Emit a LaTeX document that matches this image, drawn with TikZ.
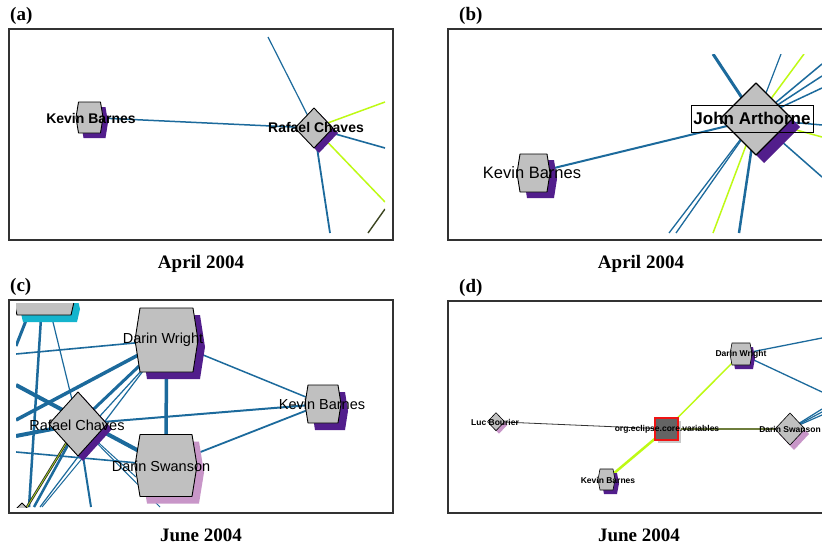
\documentclass[tikz,border=0pt]{standalone}
\usepackage{fontspec}
\setmainfont{Liberation Serif}
\setsansfont{Liberation Sans}
\definecolor{eblue}{RGB}{28,106,156}
\definecolor{elime}{RGB}{190,250,20}
\definecolor{eolive}{RGB}{110,125,60}
\definecolor{nodegray}{RGB}{192,192,192}
\definecolor{shpurple}{RGB}{82,30,140}
\definecolor{shmauve}{RGB}{200,150,200}
\definecolor{shteal}{RGB}{20,180,205}
\definecolor{shgray}{RGB}{200,200,200}
\definecolor{sqfill}{RGB}{100,100,100}
\definecolor{sqred}{RGB}{240,20,20}
\definecolor{framegray}{RGB}{50,50,50}
\newcommand\HexShape[5]{\path[shift={(#1)},#5] (-#2+#4,-#3) -- (#2-#4,-#3) -- (#2,0) -- (#2-#4,#3) -- (-#2+#4,#3) -- (-#2,0) -- cycle;}
\newcommand\DiaShape[4]{\path[shift={(#1)},#4] (0,-#3) -- (#2,0) -- (0,#3) -- (-#2,0) -- cycle;}
\begin{document}
\begin{tikzpicture}[x=1pt,y=-1pt,
  frame/.style={draw=framegray,line width=1.1pt},
  ed/.style={draw=eblue,line width=#1},
  ed/.default=1.3pt,
  lime/.style={draw=elime,line width=#1},
  lime/.default=1.5pt,
  nshape/.style={fill=nodegray,draw=black,line width=0.9pt,line join=round},
  plabel/.style={font=\bfseries\fontsize{19}{22}\selectfont,anchor=base west,inner sep=0},
  caption/.style={font=\bfseries\fontsize{19}{22}\selectfont,anchor=base,inner sep=0},
  lblA/.style={font=\sffamily\bfseries\fontsize{14}{16}\selectfont,inner sep=0},
  lblB/.style={font=\sffamily\fontsize{16.5}{19}\selectfont,inner sep=0},
  lblC/.style={font=\sffamily\fontsize{14.5}{17}\selectfont,inner sep=0},
  lblD/.style={font=\sffamily\bfseries\fontsize{8.5}{10}\selectfont,inner sep=0},
]
\useasboundingbox (0,0) rectangle (822,549);
\fill[white] (0,0) rectangle (822,549);

% ---------------- panel (a) ----------------
\coordinate (kbA) at (89.5,117.5);
\coordinate (rcA) at (314,128);
\coordinate (a1) at (268,37);
\coordinate (a2) at (385,102);
\coordinate (a3) at (385,148);
\coordinate (a4) at (385,202);
\coordinate (a5) at (330,233);
\coordinate (a6) at (368,233);
\coordinate (a7) at (385,209);
\begin{scope}
  \clip (16,36) rectangle (385,233);
  \draw[ed=1.5pt] (kbA) -- (rcA);
  \draw[ed=1.2pt] (rcA) -- (a1);
  \draw[lime] (rcA) -- (a2);
  \draw[ed=1.6pt] (rcA) -- (a3);
  \draw[lime] (rcA) -- (a4);
  \draw[ed=1.8pt] (rcA) -- (a5);
  \draw[draw=eolive!55!black,line width=1.4pt] (a6) -- (a7);
  \HexShape{kbA}{13.5}{15.5}{2.5}{fill=shpurple,shift={(5,5)}}
  \HexShape{kbA}{13.5}{15.5}{2.5}{nshape}
  \DiaShape{rcA}{19}{20}{fill=shpurple,shift={(5,5)}}
  \DiaShape{rcA}{19}{20}{nshape}
\end{scope}
\node[lblA] (kbAl) at (91,118) {Kevin Barnes};
\node[lblA] (rcAl) at (316,127) {Rafael Chaves};
\draw[frame] (9,29) rectangle (393,240);
\node[plabel] (la) at (10,20.5) {(a)};
\node[caption] (ca) at (201,268) {April 2004};

% ---------------- panel (b) ----------------
\coordinate (kbB) at (533.5,173);
\coordinate (jaB) at (756,119);
\coordinate (b1) at (713,54);
\coordinate (b2) at (781,54);
\coordinate (b3) at (804,54);
\coordinate (b4) at (822,64);
\coordinate (b5) at (822,76);
\coordinate (b6) at (822,88);
\coordinate (b7) at (822,125);
\coordinate (b8) at (822,137);
\coordinate (b9) at (822,177);
\coordinate (b10) at (669,233);
\coordinate (b11) at (676,233);
\coordinate (b12) at (713,233);
\coordinate (b13) at (739,233);
\begin{scope}
  \clip (455,54) rectangle (822,233);
  \draw[ed=2pt] (kbB) -- (jaB);
  \draw[ed=3pt] (jaB) -- (b1);
  \draw[ed=1.2pt] (jaB) -- (b2);
  \draw[lime] (jaB) -- (b3);
  \draw[ed=1.5pt] (jaB) -- (b4);
  \draw[ed=1.5pt] (jaB) -- (b5);
  \draw[ed=1.5pt] (jaB) -- (b6);
  \draw[ed=1.5pt] (jaB) -- (b7);
  \draw[lime] (jaB) -- (b8);
  \draw[ed=1.5pt] (jaB) -- (b9);
  \draw[ed=1.3pt] (jaB) -- (b10);
  \draw[ed=1.3pt] (jaB) -- (b11);
  \draw[lime] (jaB) -- (b12);
  \draw[ed=2.5pt] (jaB) -- (b13);
  \HexShape{kbB}{16.5}{19}{3}{fill=shpurple,shift={(7,6)}}
  \HexShape{kbB}{16.5}{19}{3}{nshape}
  \DiaShape{jaB}{36}{36}{fill=shpurple,shift={(8,8)}}
  \DiaShape{jaB}{36}{36}{nshape,line width=1.1pt}
\end{scope}
\node[lblB] (kbBl) at (532,173) {Kevin Barnes};
\node[draw=black,line width=0.9pt,minimum width=122pt,minimum height=27pt,inner sep=0,
      font=\sffamily\bfseries\fontsize{17}{20}\selectfont] (jaBl) at (752,118.5) {John Arthorne};
\draw[frame] (822,29) -- (448,29) -- (448,240) -- (822,240);
\node[plabel] (lb) at (459,20.5) {(b)};
\node[caption] (cb) at (641,268) {April 2004};

% ---------------- panel (c) ----------------
\coordinate (tlC) at (44,302);
\coordinate (dwC) at (166.5,340);
\coordinate (dsC) at (166,465.5);
\coordinate (kbC) at (323,404);
\coordinate (rcC) at (78,424);
\coordinate (bcC) at (22,511);
\coordinate (c1s) at (27,318);
\coordinate (c1e) at (16,346);
\coordinate (c2s) at (41,318);
\coordinate (c2e) at (29,507);
\coordinate (c3s) at (52,318);
\coordinate (c4) at (16,354);
\coordinate (c5) at (16,385);
\coordinate (c6) at (16,420);
\coordinate (c8) at (16,436);
\coordinate (c9) at (16,452);
\coordinate (c11) at (40,507);
\coordinate (c16) at (27,507);
\coordinate (c17) at (91,507);
\coordinate (c18s) at (85,455);
\coordinate (c18e) at (42,507);
\coordinate (c19) at (160,507);
\coordinate (c20s) at (100,416);
\coordinate (c20e) at (142,370);
\coordinate (c21) at (136,477);
\coordinate (c22s) at (68,445);
\coordinate (c22e) at (34,507);
\begin{scope}
  \clip (16,303) rectangle (392,507);
  \draw[ed=3pt] (c1s) -- (c1e);
  \draw[ed=2.5pt] (c2s) -- (c2e);
  \draw[ed=1.2pt] (c3s) -- (rcC);
  \draw[ed=1.6pt] (c4) -- (dwC);
  \draw[ed=4pt] (c5) -- (dsC);
  \draw[ed=3.5pt] (c6) -- (dwC);
  \draw[ed=4pt] (c8) -- (rcC);
  \draw[ed=1.6pt] (c9) -- (dsC);
  \draw[ed=3pt] (dwC) -- (rcC);
  \draw[ed=1.2pt] (c20s) -- (c20e);
  \draw[ed=1.2pt] (dwC) -- (c11);
  \draw[ed=3.5pt] (dwC) -- (dsC);
  \draw[ed=1.5pt] (dwC) -- (kbC);
  \draw[ed=1.8pt] (dsC) -- (kbC);
  \draw[ed=2pt] (rcC) -- (kbC);
  \draw[ed=2.5pt] (c22s) -- (c22e);
  \draw[draw=black!85,line width=2.4pt] (rcC) -- (c16);
  \draw[draw=elime!70!eolive,line width=0.8pt] (rcC) -- (c16);
  \draw[ed=2pt] (rcC) -- (c17);
  \draw[ed=1pt] (c18s) -- (c18e);
  \draw[ed=1pt] (rcC) -- (c19);
  \draw[ed=1pt] (rcC) -- (c21);
  \HexShape{tlC}{30}{13}{3}{fill=shteal,shift={(6,7)}}
  \HexShape{tlC}{30}{13}{3}{nshape}
  \DiaShape{bcC}{8}{8}{nshape}
  \HexShape{dwC}{31.5}{32}{5}{fill=shpurple,shift={(7,7)}}
  \HexShape{dwC}{31.5}{32}{5}{nshape}
  \HexShape{dsC}{31}{31}{5}{fill=shmauve,shift={(7,7)}}
  \HexShape{dsC}{31}{31}{5}{nshape}
  \HexShape{kbC}{18}{19}{3}{fill=shpurple,shift={(7,7)}}
  \HexShape{kbC}{18}{19}{3}{nshape}
  \DiaShape{rcC}{29}{32}{fill=shpurple,shift={(5,5)}}
  \DiaShape{rcC}{29}{32}{nshape}
\end{scope}
\node[lblC] (dwCl) at (163,340) {Darin Wright};
\node[lblC] (dsCl) at (161,466.5) {Darin Swanson};
\node[lblC] (kbCl) at (322,404.3) {Kevin Barnes};
\node[lblC] (rcCl) at (77,425) {Rafael Chaves};
\draw[frame] (9,300) rectangle (393,513);
\node[plabel] (lc) at (10,291.5) {(c)};
\node[caption] (cc) at (201,541) {June 2004};

% ---------------- panel (d) ----------------
\coordinate (dwD) at (741,354);
\coordinate (orgD) at (666.5,429);
\coordinate (lbD) at (496,421.7);
\coordinate (kbD) at (606.5,479.5);
\coordinate (dsD) at (790,429);
\coordinate (d1) at (822,338);
\coordinate (d2) at (822,392);
\coordinate (d3) at (822,409);
\coordinate (d4) at (822,412);
\coordinate (d5) at (822,415);
\begin{scope}
  \clip (452,305) rectangle (822,509);
  \draw[draw=black!80,line width=0.8pt] (lbD) -- (orgD);
  \draw[draw=eolive,line width=1.3pt] (orgD) -- (dsD);
  \draw[lime] (orgD) -- (dwD);
  \draw[lime=2.5pt] (orgD) -- (kbD);
  \draw[ed=1.3pt] (dwD) -- (d1);
  \draw[ed=1.3pt] (dwD) -- (d2);
  \draw[ed=1.2pt] (dsD) -- (d3);
  \draw[ed=1.2pt] (dsD) -- (d4);
  \draw[ed=1.2pt] (dsD) -- (d5);
  \HexShape{kbD}{8.5}{10.5}{2}{fill=shpurple,shift={(4,4)}}
  \HexShape{kbD}{8.5}{10.5}{2}{nshape,line width=0.6pt}
  \HexShape{dwD}{11}{11}{2}{fill=shpurple,shift={(3,4)}}
  \HexShape{dwD}{11}{11}{2}{nshape,line width=0.6pt}
  \DiaShape{lbD}{8.5}{9}{fill=shmauve,shift={(3,3)}}
  \DiaShape{lbD}{8.5}{9}{nshape,line width=0.6pt}
  \DiaShape{dsD}{15}{16}{fill=shmauve,shift={(4,5)}}
  \DiaShape{dsD}{15}{16}{nshape,line width=0.6pt}
  \path[shift={(orgD)},fill=shgray] (-8.5,-8) rectangle (14.5,14);
  \path[shift={(orgD)},fill=sqfill,draw=sqred,line width=1.5pt] (-11.5,-11) rectangle (11.5,11);
\end{scope}
\node[lblD] (dwDl) at (741,354) {Darin Wright};
\node[lblD] (orgDl) at (667,429) {org.eclipse.core.variables};
\node[lblD] (lbDl) at (495,422) {Luc Bourier};
\node[lblD] (kbDl) at (608,480) {Kevin Barnes};
\node[lblD] (dsDl) at (790,429) {Darin Swanson};
\draw[frame] (822,301) -- (448,301) -- (448,513) -- (822,513);
\node[plabel] (ld) at (459,292) {(d)};
\node[caption] (cd) at (639,541) {June 2004};
\end{tikzpicture}
\end{document}
